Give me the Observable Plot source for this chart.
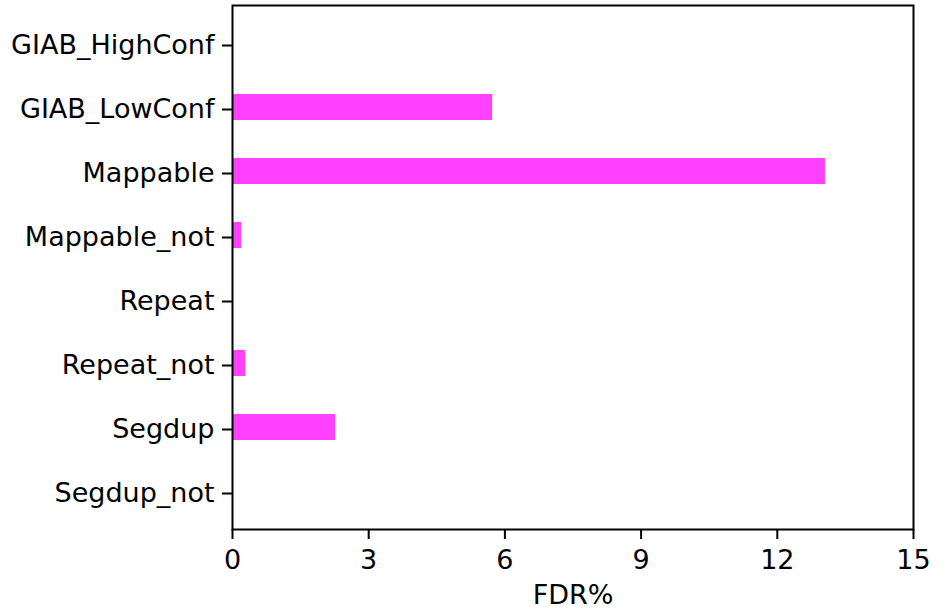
<!DOCTYPE html>
<html>
<head>
<meta charset="utf-8">
<script src="https://cdn.jsdelivr.net/npm/d3@7"></script>
<script src="https://cdn.jsdelivr.net/npm/@observablehq/plot@0.6"></script>
<style>
  html, body { margin: 0; padding: 0; background: #fff; }
  #chart svg { display: block; }
</style>
</head>
<body>
<div id="chart"></div>
<script>
const categories = ["GIAB_HighConf", "GIAB_LowConf", "Mappable", "Mappable_not", "Repeat", "Repeat_not", "Segdup", "Segdup_not"];
const fdrValues = [0, 5.73, 13.06, 0.2, 0, 0.29, 2.27, 0];
const xTicks = [0, 3, 6, 9, 12, 15];
const xLabel = "FDR%";

const data = categories.map((c, i) => ({category: c, fdr: fdrValues[i]}));

const chart = Plot.plot({
  width: 947,
  height: 611,
  marginLeft: 232,
  marginRight: 34,
  marginTop: 5,
  marginBottom: 82,
  style: {fontFamily: "DejaVu Sans", fontSize: "27px", color: "#000", background: "#fff"},
  x: {domain: [0, 15], ticks: xTicks},
  y: {domain: categories, type: "band", paddingInner: 0.6, paddingOuter: 0.37},
  marks: [
    Plot.barX(data, {x: "fdr", y: "category", fill: "#ff40ff"}),
    Plot.frame({stroke: "#000", strokeWidth: 2}),
    Plot.axisY({tickSize: 10, tickPadding: 8, strokeWidth: 2, label: null, fontSize: 27, dy: 2}),
    Plot.axisX({ticks: xTicks, tickSize: 10, tickPadding: 10, strokeWidth: 2, label: xLabel, labelAnchor: "center", labelArrow: "none", labelOffset: 74, fontSize: 27})
  ]
});
document.getElementById("chart").appendChild(chart);
</script>
</body>
</html>
